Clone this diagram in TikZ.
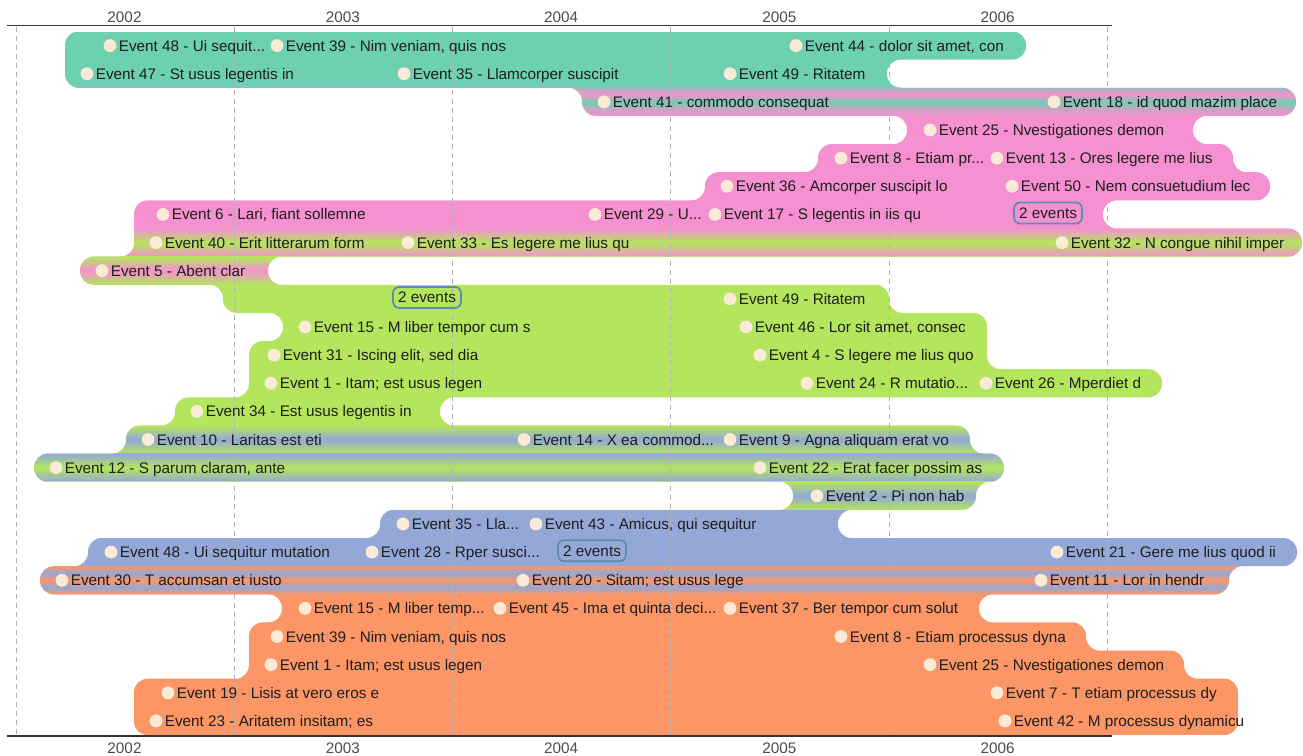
\documentclass[tikz,border=0pt]{standalone}
\usepackage{fontspec}
\setmainfont{Liberation Sans}
\usetikzlibrary{positioning}

\definecolor{cgreen}{RGB}{109,208,176}
\definecolor{cpink}{RGB}{245,145,208}
\definecolor{clime}{RGB}{179,230,92}
\definecolor{cblue}{RGB}{148,168,216}
\definecolor{corange}{RGB}{252,150,102}
\definecolor{cdot}{RGB}{250,234,214}
\definecolor{cbadge}{RGB}{96,140,174}
\definecolor{cgrid}{RGB}{178,178,178}
\definecolor{ctext}{RGB}{30,30,30}

% striped rows where two groups share a row
\pgfdeclareverticalshading{sGP}{100bp}{color(0bp)=(cpink); color(25bp)=(cpink); color(37.5bp)=(cpink!70!cgreen); color(50bp)=(cgreen); color(62.5bp)=(cpink); color(75bp)=(cgreen!60!cpink); color(100bp)=(cgreen!60!cpink)}
\pgfdeclareverticalshading{sPLP}{100bp}{color(0bp)=(cpink); color(25bp)=(cpink); color(50bp)=(clime); color(75bp)=(cpink); color(100bp)=(cpink)}
\pgfdeclareverticalshading{sLPL}{100bp}{color(0bp)=(clime); color(25bp)=(clime); color(50bp)=(cpink); color(75bp)=(clime); color(100bp)=(clime)}
\pgfdeclareverticalshading{sLBL}{100bp}{color(0bp)=(clime); color(25bp)=(clime); color(50bp)=(cblue); color(75bp)=(clime); color(100bp)=(clime)}
\pgfdeclareverticalshading{sBLB}{100bp}{color(0bp)=(cblue); color(25bp)=(cblue); color(50bp)=(clime); color(75bp)=(cblue); color(100bp)=(cblue)}
\pgfdeclareverticalshading{sOB}{100bp}{color(0bp)=(corange); color(25bp)=(corange); color(37.5bp)=(cblue); color(50bp)=(corange); color(62.5bp)=(cblue); color(75bp)=(corange); color(100bp)=(corange)}

\begin{document}
\begin{tikzpicture}[
        x=1pt, y=-28.14pt,
        evdot/.style={circle, fill=cdot, minimum size=12.8pt, inner sep=0pt},
        evtext/.style={inner sep=0pt, text=ctext, font=\fontsize{15.3}{18}\selectfont, text height=11pt, text depth=0pt},
        badge/.style={draw=cbadge, line width=1.8pt, rounded corners=6pt, inner xsep=5pt, minimum height=21pt, text=ctext, font=\fontsize{15.3}{18}\selectfont, text height=11pt, text depth=0pt},
        yearlbl/.style={inner sep=0pt, text=ctext!80, font=\fontsize{15.3}{18}\selectfont, text height=11pt, text depth=0pt},
        gridline/.style={cgrid, line width=0.9pt, dash pattern=on 5pt off 4pt},
        axisline/.style={black!80, line width=1.2pt}
    ]
    \useasboundingbox (0,-1.1194) rectangle (1303,25.746);

    % Group bands, one blob clipped to the row outline
    \begin{scope}
        \clip[rounded corners=13.5pt] (500,0) -- (1026,0) -- (1026,1) -- (887,1) -- (887,2)
            -- (1296,2) -- (1296,3) -- (1193,3) -- (1193,4) -- (1233,4) -- (1233,5)
            -- (1270,5) -- (1270,6) -- (1103,6) -- (1103,7) -- (1302,7) -- (1302,8)
            -- (268,8) -- (268,9) -- (889,9) -- (889,10) -- (987,10) -- (987,12)
            -- (1162,12) -- (1162,13) -- (440,13) -- (440,14) -- (970,14) -- (970,15)
            -- (1004,15) -- (1004,16) -- (976,16) -- (976,17) -- (838,17) -- (838,18)
            -- (1297,18) -- (1297,19) -- (1229,19) -- (1229,20) -- (979,20) -- (979,21)
            -- (1086,21) -- (1086,22) -- (1184,22) -- (1184,23) -- (1238,23) -- (1238,25)
            -- (134,25) -- (134,23) -- (249,23) -- (249,21) -- (282,21) -- (282,20)
            -- (40,20) -- (40,19) -- (88,19) -- (88,18) -- (380,18) -- (380,17)
            -- (793,17) -- (793,16) -- (34,16) -- (34,15) -- (126,15) -- (126,14)
            -- (175,14) -- (175,13) -- (249,13) -- (249,11) -- (283,11) -- (283,10)
            -- (223,10) -- (223,9) -- (80,9) -- (80,8) -- (134,8) -- (134,6)
            -- (705,6) -- (705,5) -- (818,5) -- (818,4) -- (907,4) -- (907,3)
            -- (582,3) -- (582,2) -- (65,2) -- (65,0) -- cycle;
        \fill[cgreen] (0,0) rectangle (1303,2);
        \shade[shading=sGP] (0,2) rectangle (1303,3);
        \fill[cpink] (0,3) rectangle (1303,7);
        \shade[shading=sPLP] (0,7) rectangle (1303,8);
        \shade[shading=sLPL] (0,8) rectangle (1303,9);
        \fill[clime] (0,9) rectangle (1303,14);
        \shade[shading=sLBL] (0,14) rectangle (1303,15);
        \shade[shading=sBLB] (0,15) rectangle (1303,16);
        \shade[shading=sLBL] (0,16) rectangle (1303,17);
        \fill[cblue] (0,17) rectangle (1303,19);
        \shade[shading=sOB] (0,19) rectangle (1303,20);
        \fill[corange] (0,20) rectangle (1303,25);
    \end{scope}

    % Year grid and axes
    \foreach \k in {0,...,5}
        \draw[gridline] (16+\k*218.3,-0.17) -- (16+\k*218.3,25.0);
    \draw[axisline] (7,-0.206) -- (1112,-0.206);
    \draw[axisline] (7,25.036) -- (1112,25.036);
    \foreach \yr [count=\k from 0] in {2002,...,2006} {
        \node[yearlbl] (top\yr) at (124.5+\k*218.3,-0.508) {\yr};
        \node[yearlbl] (bot\yr) at (124.5+\k*218.3,25.462) {\yr};
    }

    % Events: row / dot x / label
    \foreach \row/\px/\txt [count=\k] in {
        1/110/{Event 48 - Ui sequit...},
        1/277/{Event 39 - Nim veniam, quis nos},
        1/796/{Event 44 - dolor sit amet, con},
        2/87/{Event 47 - St usus legentis in},
        2/404/{Event 35 - Llamcorper suscipit},
        2/730/{Event 49 - Ritatem},
        3/604/{Event 41 - commodo consequat},
        3/1054/{Event 18 - id quod mazim place},
        4/930/{Event 25 - Nvestigationes demon},
        5/841/{Event 8 - Etiam pr...},
        5/997/{Event 13 - Ores legere me lius},
        6/727/{Event 36 - Amcorper suscipit lo},
        6/1012/{Event 50 - Nem consuetudium lec},
        7/163/{Event 6 - Lari, fiant sollemne},
        7/595/{Event 29 - U...},
        7/715/{Event 17 - S legentis in iis qu},
        8/156/{Event 40 - Erit litterarum form},
        8/408/{Event 33 - Es legere me lius qu},
        8/1062/{Event 32 - N congue nihil imper},
        9/102/{Event 5 - Abent clar},
        10/730/{Event 49 - Ritatem},
        11/305/{Event 15 - M liber tempor cum s},
        11/746/{Event 46 - Lor sit amet, consec},
        12/274/{Event 31 - Iscing elit, sed dia},
        12/760/{Event 4 - S legere me lius quo},
        13/271/{Event 1 - Itam; est usus legen},
        13/807/{Event 24 - R mutatio...},
        13/986/{Event 26 - Mperdiet d},
        14/197/{Event 34 - Est usus legentis in},
        15/148/{Event 10 - Laritas est eti},
        15/524/{Event 14 - X ea commod...},
        15/730/{Event 9 - Agna aliquam erat vo},
        16/56/{Event 12 - S parum claram, ante},
        16/760/{Event 22 - Erat facer possim as},
        17/817/{Event 2 - Pi non hab},
        18/403/{Event 35 - Lla...},
        18/536/{Event 43 - Amicus, qui sequitur},
        19/111/{Event 48 - Ui sequitur mutation},
        19/372/{Event 28 - Rper susci...},
        19/1057/{Event 21 - Gere me lius quod ii},
        20/62/{Event 30 - T accumsan et iusto},
        20/523/{Event 20 - Sitam; est usus lege},
        20/1041/{Event 11 - Lor in hendr},
        21/305/{Event 15 - M liber temp...},
        21/500/{Event 45 - Ima et quinta deci...},
        21/730/{Event 37 - Ber tempor cum solut},
        22/277/{Event 39 - Nim veniam, quis nos},
        22/841/{Event 8 - Etiam processus dyna},
        23/271/{Event 1 - Itam; est usus legen},
        23/930/{Event 25 - Nvestigationes demon},
        24/168/{Event 19 - Lisis at vero eros e},
        24/997/{Event 7 - T etiam processus dy},
        25/156/{Event 23 - Aritatem insitam; es},
        25/1005/{Event 42 - M processus dynamicu}
    } {
        \node[evdot] (d\k) at (\px,\row-0.5) {};
        \node[evtext, right=2pt of d\k] (e\k) {\txt};
    }

    % Cluster badges
    \node[badge] (b1) at (1048,6.45) {2 events};
    \node[badge] (b2) at (427,9.45) {2 events};
    \node[badge] (b3) at (592,18.45) {2 events};
\end{tikzpicture}
\end{document}
